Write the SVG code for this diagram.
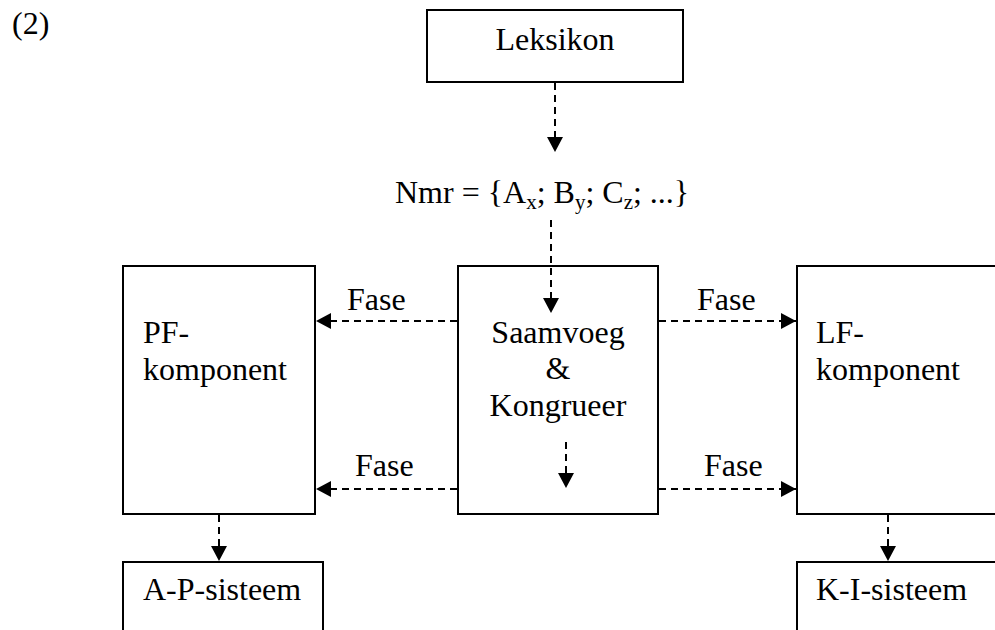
<svg xmlns="http://www.w3.org/2000/svg" width="995" height="630" viewBox="0 0 995 630">
<defs>
<style>
text{font-family:"Liberation Serif","Times New Roman",serif;font-size:32px;fill:#000}
.box{fill:#fff;stroke:#000;stroke-width:2}
.con{fill:none;stroke:#000;stroke-width:2;stroke-dasharray:7 5}
.sub{font-size:21px}
</style>
<marker id="ah" markerUnits="userSpaceOnUse" markerWidth="18" markerHeight="18" refX="15" refY="8" orient="auto">
<path d="M0,0 L15,8 L0,16 Z" fill="#000"/>
</marker>
</defs>
<rect width="995" height="630" fill="#fff"/>
<text x="12" y="34">(2)</text>
<g id="leksikon">
<rect class="box" x="427" y="10" width="256" height="72"/>
<text x="555" y="50" text-anchor="middle">Leksikon</text>
</g>
<g id="nmr">
<text x="395" y="203">Nmr = {A<tspan class="sub" dy="6">x</tspan><tspan dy="-6">; B</tspan><tspan class="sub" dy="6">y</tspan><tspan dy="-6">; C</tspan><tspan class="sub" dy="6">z</tspan><tspan dy="-6">; ...}</tspan></text>
</g>
<g id="saamvoeg">
<rect class="box" x="458" y="266" width="200" height="248"/>
<text x="558" y="343" text-anchor="middle">Saamvoeg</text>
<text x="558" y="379" text-anchor="middle">&amp;</text>
<text x="558" y="416" text-anchor="middle">Kongrueer</text>
</g>
<g id="pf">
<rect class="box" x="123" y="266" width="192" height="248"/>
<text x="143" y="343">PF-</text>
<text x="143" y="380">komponent</text>
</g>
<g id="lf">
<rect class="box" x="797" y="266" width="220" height="248"/>
<text x="816" y="343">LF-</text>
<text x="816" y="380">komponent</text>
</g>
<g id="ap">
<rect class="box" x="123" y="562" width="200" height="90"/>
<text x="143" y="600">A-P-sisteem</text>
</g>
<g id="ki">
<rect class="box" x="797" y="562" width="220" height="90"/>
<text x="816" y="600">K-I-sisteem</text>
</g>
<g id="connectors">
<line class="con" x1="555" y1="83" x2="555" y2="152" marker-end="url(#ah)"/>
<line class="con" x1="551" y1="220" x2="551" y2="313" marker-end="url(#ah)"/>
<line class="con" x1="566" y1="442" x2="566" y2="488" marker-end="url(#ah)"/>
<line class="con" x1="219" y1="515" x2="219" y2="561" marker-end="url(#ah)"/>
<line class="con" x1="888" y1="515" x2="888" y2="561" marker-end="url(#ah)"/>
<line class="con" x1="457" y1="321" x2="316" y2="321" marker-end="url(#ah)"/>
<line class="con" x1="457" y1="489" x2="316" y2="489" marker-end="url(#ah)"/>
<line class="con" x1="659" y1="321" x2="796" y2="321" marker-end="url(#ah)"/>
<line class="con" x1="659" y1="489" x2="796" y2="489" marker-end="url(#ah)"/>
<text x="347" y="310">Fase</text>
<text x="355" y="476">Fase</text>
<text x="697" y="310">Fase</text>
<text x="704" y="476">Fase</text>
</g>
</svg>
